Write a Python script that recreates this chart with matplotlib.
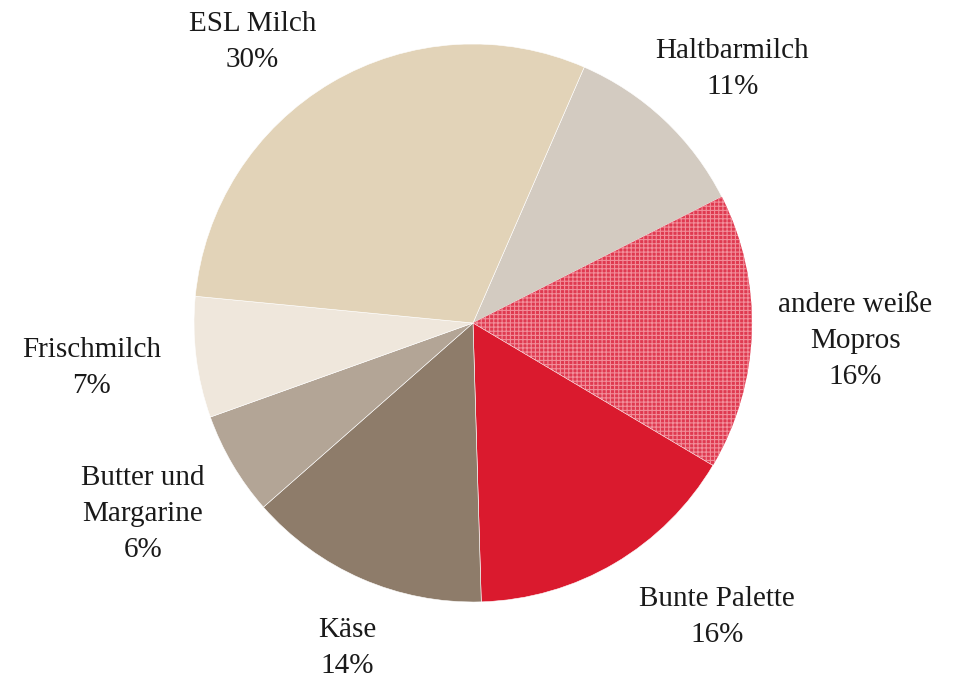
import matplotlib.pyplot as plt
import matplotlib as mpl

# shares in percent, clockwise starting at Haltbarmilch
labels = ["Haltbarmilch", "andere weiße\nMopros", "Bunte Palette", "Käse",
          "Butter und\nMargarine", "Frischmilch", "ESL Milch"]
values = [11, 16, 16, 14, 6, 7, 30]
colors = ["#d3cbc1", "#df3a50", "#da1a2e", "#8e7c6a", "#b3a596", "#efe7dc", "#e2d3b8"]
patterned = [False, True, False, False, False, False, False]

# label anchors in units of the pie radius
label_pos = [(0.93, 0.91), (1.37, -0.065), (0.875, -1.054), (-0.452, -1.165),
             (-1.183, -0.685), (-1.366, -0.161), (-0.79, 1.007)]

mpl.rcParams["hatch.linewidth"] = 0.8
plt.rcParams["font.family"] = ["Liberation Serif", "DejaVu Serif"]

fig = plt.figure(figsize=(9.6, 6.79), dpi=100)
ax = fig.add_axes([0, 0, 1, 1])

wedges, _ = ax.pie(values, colors=colors, startangle=66.5, counterclock=False,
                   radius=1, center=(0, 0),
                   wedgeprops=dict(edgecolor="white", linewidth=0.4))

for w, p in zip(wedges, patterned):
    if p:
        w.set_edgecolor("#f28e9a")
        w.set_hatch("++++")
        w.set_linewidth(0)

for lab, v, (x, y) in zip(labels, values, label_pos):
    ax.text(x, y, f"{lab}\n{v}%", ha="center", va="center", fontsize=21,
            linespacing=1.5, color="#1a1a1a")

ax.set_xlim(-473 / 279, (960 - 473) / 279)
ax.set_ylim(-356 / 279, 323 / 279)
ax.set_aspect("auto")
ax.axis("off")

fig.savefig("out.png", dpi=100)
